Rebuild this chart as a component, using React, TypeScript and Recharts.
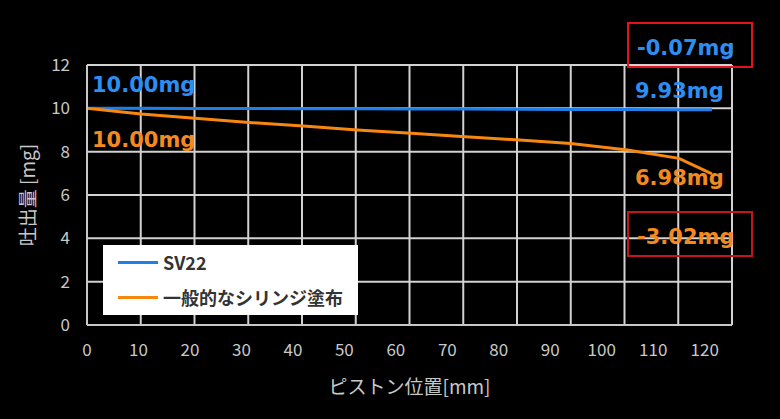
import React from 'react';
import {
  LineChart,
  Line,
  XAxis,
  YAxis,
  CartesianGrid,
  Legend,
} from 'recharts';

// piston position [mm]
const positions = [0, 10.5, 21, 31.5, 42, 52.5, 63, 73.5, 84, 94, 105, 115, 121.4];
// discharge [mg]
const sv22 = [10.0, 10.0, 9.99, 9.99, 9.98, 9.98, 9.97, 9.97, 9.96, 9.95, 9.95, 9.94, 9.93];
const syringe = [10.0, 9.74, 9.54, 9.35, 9.18, 9.0, 8.85, 8.69, 8.54, 8.38, 8.08, 7.69, 6.98];

const xTicks = [0, 10, 20, 30, 40, 50, 60, 70, 80, 90, 100, 110, 120];
const yTicks = [0, 2, 4, 6, 8, 10, 12];
const gridDivisions = 12;

const series = [
  { key: 'sv22', name: 'SV22', color: '#1f7fe8', text: '#2d8ef2', values: sv22 },
  { key: 'syringe', name: '一般的なシリンジ塗布', color: '#f7870f', text: '#f28a1f', values: syringe },
];

const data = positions.map((x, i) => ({ x, sv22: sv22[i], syringe: syringe[i] }));

const fmt = (v: number) => `${v.toFixed(2)}mg`;
const first = (a: number[]) => a[0];
const last = (a: number[]) => a[a.length - 1];

const axisColor = '#c8c8c8';
const gridColor = '#d2d2d2';

const LegendBox = () => (
  <div
    style={{
      background: '#fff',
      width: 255,
      height: 70,
      boxSizing: 'border-box',
      position: 'relative',
    }}
  >
    {series.map((s, i) => (
      <div
        key={s.key}
        style={{
          position: 'absolute',
          left: 15,
          top: 17 + i * 35 - 12,
          height: 24,
          display: 'flex',
          alignItems: 'center',
        }}
      >
        <span style={{ width: 40, height: 3, background: s.color, display: 'inline-block' }} />
        <span
          style={{
            marginLeft: 5,
            fontSize: 18,
            fontWeight: 700,
            color: '#333',
            lineHeight: '24px',
            whiteSpace: 'nowrap',
          }}
        >
          {s.name}
        </span>
      </div>
    ))}
  </div>
);

const annoStyle = (color: string, left: number, top: number): React.CSSProperties => ({
  position: 'absolute',
  left,
  top,
  color,
  fontFamily: '"DejaVu Sans", sans-serif',
  fontWeight: 700,
  fontSize: 21,
  lineHeight: '21px',
  whiteSpace: 'nowrap',
});

const boxStyle = (color: string, top: number): React.CSSProperties => ({
  position: 'absolute',
  left: 627,
  top,
  width: 126,
  height: 46,
  boxSizing: 'border-box',
  border: `2px solid ${color}`,
});

export default function App() {
  const [blue, orange] = series;
  return (
    <div
      style={{
        position: 'absolute',
        left: 0,
        top: 0,
        width: 780,
        height: 419,
        background: '#000',
        fontFamily: '"Noto Sans CJK JP", sans-serif',
        overflow: 'hidden',
      }}
    >
      <LineChart
        width={780}
        height={419}
        data={data}
        margin={{ top: 65, right: 48, left: 0, bottom: 0 }}
      >
        <CartesianGrid
          stroke={gridColor}
          strokeWidth={2}
          verticalCoordinatesGenerator={({ offset }: any) =>
            Array.from({ length: gridDivisions + 1 }, (_, i) => offset.left + (offset.width * i) / gridDivisions)
          }
        />
        <XAxis
          dataKey="x"
          type="number"
          domain={[0, 125.3]}
          ticks={xTicks}
          height={94}
          tickSize={0}
          tickMargin={19}
          axisLine={{ stroke: axisColor, strokeWidth: 2 }}
          tick={{ fill: axisColor, fontSize: 17 }}
          label={{
            value: 'ピストン位置[mm]',
            position: 'insideBottom',
            offset: 25,
            fill: axisColor,
            fontSize: 19,
          }}
        />
        <YAxis
          type="number"
          domain={[0, 12]}
          ticks={yTicks}
          width={87}
          tickSize={0}
          tickMargin={17}
          axisLine={{ stroke: axisColor, strokeWidth: 2 }}
          tick={{ fill: axisColor, fontSize: 17 }}
          label={{
            value: '吐出量 [mg]',
            angle: -90,
            position: 'insideLeft',
            offset: 28,
            fill: axisColor,
            fontSize: 19,
            style: { textAnchor: 'middle' },
          }}
        />
        <Legend
          layout="vertical"
          align="center"
          verticalAlign="middle"
          wrapperStyle={{ left: 103, top: 245, width: 255, height: 70 }}
          content={() => <LegendBox />}
        />
        {series.map((s) => (
          <Line
            key={s.key}
            type="linear"
            dataKey={s.key}
            name={s.name}
            stroke={s.color}
            strokeWidth={3}
            dot={false}
            isAnimationActive={false}
          />
        ))}
      </LineChart>

      <div style={annoStyle(blue.text, 92, 75)}>{fmt(first(blue.values))}</div>
      <div style={annoStyle(orange.text, 92, 130)}>{fmt(first(orange.values))}</div>
      <div style={annoStyle(blue.text, 635, 81)}>{fmt(last(blue.values))}</div>
      <div style={annoStyle(orange.text, 635, 168)}>{fmt(last(orange.values))}</div>

      <div style={boxStyle('#e3121b', 22)} />
      <div style={annoStyle(blue.text, 637, 38)}>{fmt(last(blue.values) - first(blue.values))}</div>
      <div style={boxStyle('#c4151d', 211)} />
      <div style={annoStyle(orange.text, 637, 227)}>{fmt(last(orange.values) - first(orange.values))}</div>
    </div>
  );
}
